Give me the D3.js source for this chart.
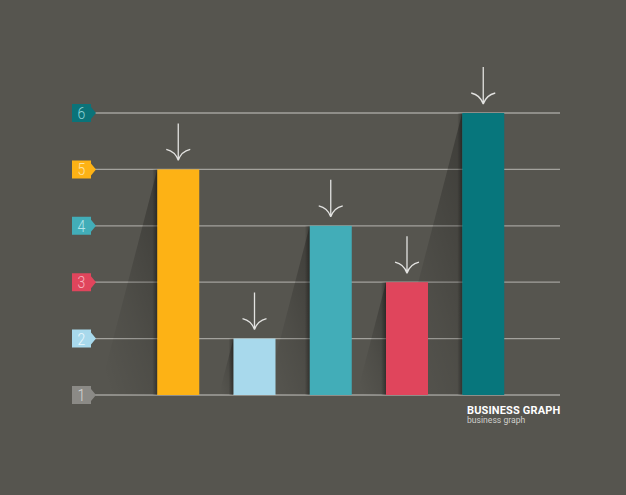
<!DOCTYPE html>
<html>
<head>
<meta charset="utf-8">
<script src="https://cdn.jsdelivr.net/npm/d3@7"></script>
<style>
  html, body { margin: 0; padding: 0; background: #56554f; }
  svg { display: block; }
</style>
</head>
<body>
<script>
// chart data
var categories = ["A", "B", "C", "D", "E"];
var values = [5, 2, 4, 3, 6];
var barColors = ["#fdb215", "#a8d9ec", "#42adb8", "#e0455c", "#07767c"];
var tickValues = [1, 2, 3, 4, 5, 6];
var tickLabels = ["1", "2", "3", "4", "5", "6"];
var tagColors = ["#8b8a86", "#a8d9ec", "#e0455c", "#42adb8", "#fdb215", "#0b7379"];
var tagTextColors = ["#d6d6d4", "#eaf7fc", "#f6b3be", "#b4e4e9", "#fee2a3", "#8fd3d6"];

var w = 626, h = 495;

window.onload = function(){
    var svg = d3.select("body").append("svg")
        .attr("width", w)
        .attr("height", h);

    svg.append("rect")
        .attr("width", w).attr("height", h)
        .attr("fill", "#56554f");

    // scales
    var y = d3.scaleLinear().domain([1, 6]).range([395, 113]);
    var x = d3.scaleBand().domain(categories).range([142, 519.5]).paddingInner(0.449).paddingOuter(0.2);

    // shadow gradient
    var defs = svg.append("defs");
    var grad = defs.append("linearGradient")
        .attr("id", "shade")
        .attr("x1", 1).attr("y1", 0).attr("x2", 0.2).attr("y2", 1);
    grad.append("stop").attr("offset", 0).attr("stop-color", "#000").attr("stop-opacity", 0.28);
    grad.append("stop").attr("offset", 0.6).attr("stop-color", "#000").attr("stop-opacity", 0.09);
    grad.append("stop").attr("offset", 1).attr("stop-color", "#000").attr("stop-opacity", 0);

    var edge = defs.append("linearGradient")
        .attr("id", "edge")
        .attr("x1", 1).attr("y1", 0).attr("x2", 0).attr("y2", 0);
    edge.append("stop").attr("offset", 0).attr("stop-color", "#000").attr("stop-opacity", 0.35);
    edge.append("stop").attr("offset", 1).attr("stop-color", "#000").attr("stop-opacity", 0);

    // grid lines
    svg.append("g").attr("class", "grid")
        .selectAll("line")
        .data(tickValues)
        .enter().append("line")
        .attr("x1", 92).attr("x2", 560)
        .attr("y1", function(d){ return y(d); })
        .attr("y2", function(d){ return y(d); })
        .attr("stroke", "#a3a29d")
        .attr("stroke-width", 1.3);

    // long shadows behind bars
    var k = 0.26;
    svg.append("g").attr("class", "shadows")
        .selectAll("path")
        .data(values)
        .enter().append("path")
        .attr("d", function(d, i){
            var x0 = x(categories[i]), t = y(d), b = y(1);
            return "M" + x0 + "," + t + "L" + x0 + "," + b + "L" + (x0 - k * (b - t)) + "," + b + "Z";
        })
        .attr("fill", "url(#shade)");

    svg.append("g").attr("class", "edges")
        .selectAll("rect")
        .data(values)
        .enter().append("rect")
        .attr("x", function(d, i){ return x(categories[i]) - 5; })
        .attr("y", function(d){ return y(d); })
        .attr("width", 5)
        .attr("height", function(d){ return y(1) - y(d); })
        .attr("fill", "url(#edge)");

    // bars
    svg.append("g").attr("class", "bars")
        .selectAll("rect")
        .data(values)
        .enter().append("rect")
        .attr("x", function(d, i){ return x(categories[i]); })
        .attr("y", function(d){ return y(d); })
        .attr("width", x.bandwidth())
        .attr("height", function(d){ return y(1) - y(d); })
        .attr("fill", function(d, i){ return barColors[i]; });

    // arrows above bars
    var arrows = svg.append("g").attr("class", "arrows")
        .selectAll("g")
        .data(values)
        .enter().append("g")
        .attr("transform", function(d, i){
            return "translate(" + (x(categories[i]) + x.bandwidth() / 2) + "," + (y(d) - 9) + ")";
        });
    arrows.append("path")
        .attr("d", "M0,-37V0M-12,-11Q-3,-9 0,0M12,-11Q3,-9 0,0")
        .attr("fill", "none")
        .attr("stroke", "#e2e2e0")
        .attr("stroke-width", 1.3);

    // tag labels on the left
    var tags = svg.append("g").attr("class", "tags")
        .selectAll("g")
        .data(tickValues)
        .enter().append("g")
        .attr("transform", function(d){ return "translate(72," + y(d) + ")"; });
    tags.append("path")
        .attr("d", "M0,-9H19V-6L24,0L19,6V9H0Z")
        .attr("fill", function(d, i){ return tagColors[i]; });
    tags.append("text")
        .attr("x", 11.2)
        .attr("y", 6)
        .attr("text-anchor", "middle")
        .attr("transform", "scale(0.85,1)")
        .style("font-family", "Roboto, 'DejaVu Sans', sans-serif")
        .style("font-weight", 300)
        .style("font-size", "16.5px")
        .attr("fill", function(d, i){ return tagTextColors[i]; })
        .text(function(d, i){ return tickLabels[i]; });

    // title
    svg.append("text")
        .attr("x", 467).attr("y", 413.5)
        .style("font-family", "Roboto, sans-serif")
        .style("font-weight", 700)
        .style("font-size", "11px")
        .style("letter-spacing", "0.15px")
        .attr("fill", "#ffffff")
        .text("BUSINESS GRAPH");
    svg.append("text")
        .attr("x", 467).attr("y", 423)
        .style("font-family", "Roboto, sans-serif")
        .style("font-size", "8.6px")
        .attr("fill", "#cfcfcb")
        .text("business graph");
};
</script>
</body>
</html>
